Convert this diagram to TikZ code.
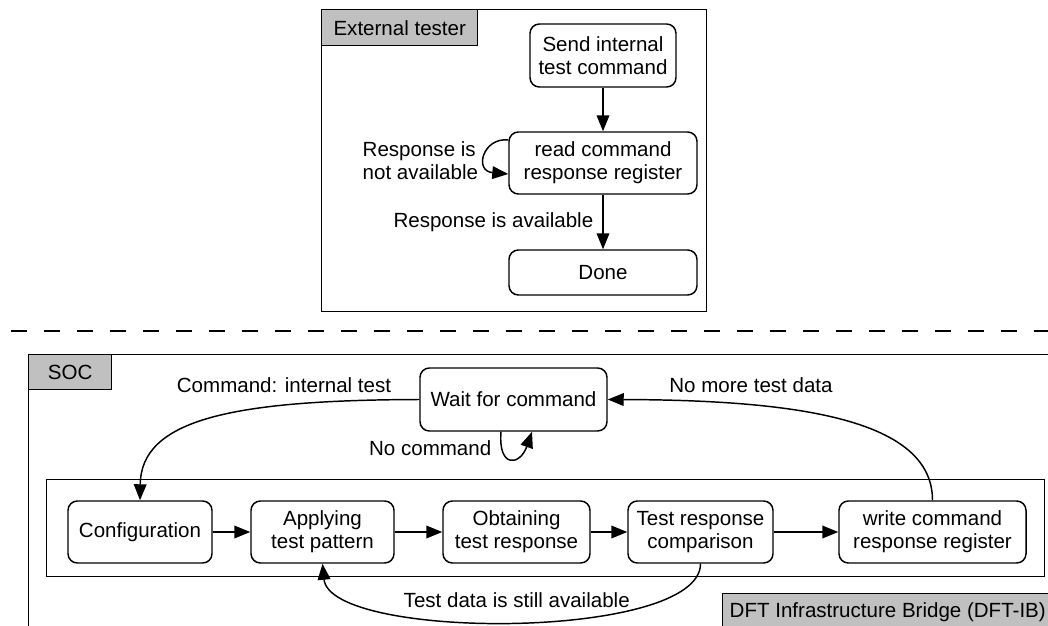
\documentclass[tikz,border=0pt]{standalone}
\usepackage{fontspec}
\setmainfont{Liberation Sans}
\usetikzlibrary{arrows.meta,calc}
\definecolor{taggray}{HTML}{C0C0C0}
\begin{document}
\begin{tikzpicture}[x=0.75pt,y=-0.75pt,
  font=\fontsize{15.4pt}{17.3pt}\selectfont,
  line width=1.1pt,
  state/.style={draw, rounded corners=7pt, align=center, inner sep=0pt},
  frame/.style={draw, rectangle, inner sep=0pt, anchor=north west},
  tag/.style={draw, fill=taggray, inner sep=0pt, anchor=north west},
  arr/.style={-{Triangle[length=12pt,width=9.5pt]}},
  lbl/.style={inner sep=0pt, align=left}
]
\useasboundingbox (0,0) rectangle (1048,625);
\clip (0,0) rectangle (1048,625);

% ---------- external tester ----------
\node[frame, minimum width=288.75pt, minimum height=226.5pt] (ext) at (321,9) {};
\node[tag, minimum width=117pt, minimum height=27pt] (exttag) at (321,9) {External tester};

\node[state, minimum width=109.5pt, minimum height=47.25pt] (send) at (603,55.5) {Send internal\\test command};
\node[state, minimum width=141pt, minimum height=46.5pt] (read) at (603,163) {read command\\response register};
\node[state, minimum width=141pt, minimum height=33.75pt] (done) at (603,272.5) {Done};

\draw[arr] (send) -- (read);
\draw[arr] (read) -- (done);
\draw[arr] ($(read.west)+(0,-23)$) .. controls +(-25,-3) and +(-35,-3) .. ($(read.west)+(0,11)$);

\node[lbl, anchor=west] (notavail) at (362,161) {Response is\\not available};
\node[lbl, anchor=east] (avail) at (594,222) {Response is available};

% ---------- separator ----------
\coordinate (sepL) at (11,331);
\coordinate (sepR) at (1048,331);
\draw[line width=1.4pt, dash pattern=on 12pt off 12.75pt] (sepL) -- (sepR);

% ---------- SOC ----------
\node[frame, minimum width=774pt, minimum height=214.5pt] (soc) at (28,354) {};
\node[tag, minimum width=62.25pt, minimum height=26.25pt] (soctag) at (28,354) {SOC};

\node[state, minimum width=140.25pt, minimum height=47.25pt] (wait) at (513.5,399.5) {Wait for command};

\node[frame, minimum width=748.5pt, minimum height=72.75pt] (dftib) at (46,479) {};
\node[tag, minimum width=247.5pt, minimum height=27pt] (dfttag) at (722,593) {DFT Infrastructure Bridge (DFT-IB)};

\node[state, minimum width=108pt, minimum height=46.5pt] (config) at (140,532) {Configuration};
\node[state, minimum width=107.25pt, minimum height=46.5pt] (apply) at (322.5,532) {Applying\\test pattern};
\node[state, minimum width=110.25pt, minimum height=46.5pt] (obtain) at (516.5,532) {Obtaining\\test response};
\node[state, minimum width=108.75pt, minimum height=46.5pt] (cmp) at (700.5,532) {Test response\\comparison};
\node[state, minimum width=140.25pt, minimum height=46.5pt] (write) at (932.5,532) {write command\\response register};

\draw[arr] (config) -- (apply);
\draw[arr] (apply) -- (obtain);
\draw[arr] (obtain) -- (cmp);
\draw[arr] (cmp) -- (write);

\draw[arr] (wait.west) .. controls (230,400) and (141,420) .. (config.north);
\draw[arr] (write.north) .. controls (932.5,420) and (800,400) .. (wait.east);
\draw[arr] ($(wait.south)+(-12.5,0)$) .. controls +(-3,37) and +(-12,34) .. ($(wait.south)+(18.5,0)$);
\draw[arr] (cmp.south) .. controls +(0,77) and +(7.5,77) .. (apply.south);

\node[lbl] (cmdlbl) at (284,385) {Command: internal test};
\node[lbl] (nomore) at (751,385) {No more test data};
\node[lbl, anchor=east] (nocmd) at (492,448) {No command};
\node[lbl, anchor=west] (stillavail) at (403,600) {Test data is still available};
\end{tikzpicture}
\end{document}
